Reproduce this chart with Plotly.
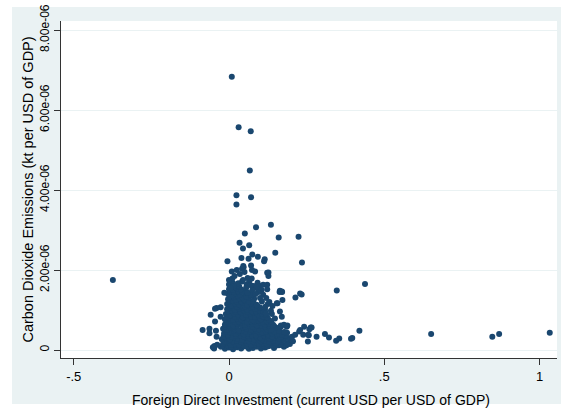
import numpy as np
import plotly.graph_objects as go

# Foreign direct investment (share of GDP) and CO2 intensity (in 1e-06 kt per USD of GDP)
fdi = [
    # lower dense band
    -0.048, -0.026, -0.013, 0.000, 0.013, 0.026, 0.039, 0.052, 0.064, 0.077, 0.090, 0.103, 0.116, 0.129, 0.145, 0.161, 0.177, 0.196,
    -0.020, -0.006, 0.007, 0.020, 0.033, 0.046, 0.059, 0.071, 0.084, 0.097, 0.110, 0.123, 0.137, 0.153, 0.169, 0.185,
    -0.019, -0.006, 0.006, 0.019, 0.032, 0.045, 0.058, 0.071, 0.084, 0.097, 0.110, 0.122, 0.135, 0.151, 0.167, 0.187, 0.206,
    -0.013, 0.000, 0.013, 0.026, 0.039, 0.052, 0.064, 0.077, 0.090, 0.103, 0.116, 0.129, 0.143, 0.159, 0.177, 0.197,
    -0.023, -0.010, 0.003, 0.016, 0.029, 0.042, 0.055, 0.068, 0.081, 0.093, 0.106, 0.119, 0.132, 0.145, 0.161, 0.174, 0.190, 0.203,
    -0.017, -0.003, 0.010, 0.023, 0.036, 0.049, 0.062, 0.075, 0.087, 0.100, 0.113, 0.126, 0.139, 0.153, 0.167, 0.182,
    -0.016, -0.003, 0.010, 0.023, 0.035, 0.048, 0.061, 0.074, 0.087, 0.100, 0.113, 0.126, 0.138, 0.155, 0.171, 0.187,
    -0.010, 0.003, 0.016, 0.029, 0.042, 0.055, 0.068, 0.080, 0.093, 0.106, 0.119, 0.132, 0.146, 0.162, 0.178,
    -0.019, -0.006, 0.006, 0.019, 0.032, 0.045, 0.058, 0.071, 0.084, 0.097, 0.110, 0.122, 0.135, 0.151, 0.167,
    -0.013, 0.000, 0.013, 0.026, 0.039, 0.052, 0.064, 0.077, 0.090, 0.103, 0.116, 0.129, 0.145,
    -0.013, 0.000, 0.013, 0.026, 0.039, 0.052, 0.064, 0.077, 0.090, 0.103, 0.116, 0.129, 0.142,
    -0.006, 0.006, 0.019, 0.032, 0.045, 0.058, 0.071, 0.084, 0.097, 0.110, 0.123, 0.136,
    -0.013, 0.000, 0.013, 0.026, 0.039, 0.052, 0.064, 0.077, 0.090, 0.103, 0.116, 0.129,
    -0.006, 0.006, 0.019, 0.032, 0.045, 0.058, 0.071, 0.084, 0.097, 0.110, 0.123,
    -0.010, 0.003, 0.016, 0.029, 0.042, 0.055, 0.068, 0.081, 0.093, 0.106, 0.119,
    -0.003, 0.010, 0.023, 0.035, 0.048, 0.061, 0.074, 0.087, 0.100, 0.112,
    -0.006, 0.006, 0.019, 0.032, 0.045, 0.058, 0.071, 0.084, 0.100, 0.116,
    0.000, 0.013, 0.026, 0.039, 0.052, 0.064, 0.077, 0.092,
    -0.006, 0.006, 0.019, 0.032, 0.045, 0.058, 0.071, 0.087,
    0.000, 0.013, 0.026, 0.039, 0.052, 0.064, 0.078,
    -0.003, 0.010, 0.023, 0.035, 0.048, 0.064, 0.081,
    0.003, 0.016, 0.029, 0.042, 0.056, 0.072,
    -0.003, 0.010, 0.023, 0.035, 0.052, 0.071,
    0.003, 0.016, 0.029, 0.043, 0.060,
    0.000, 0.013, 0.026, 0.039,
    0.006, 0.020, 0.033,
    0.000, 0.013, 0.029,
    # upper part of the cluster
    0.009, 0.011, 0.042, 0.046, 0.071, 0.074, 0.084, 0.123, 0.127, 0.030, 0.042, 0.057, 0.073, 0.092,
    0.100, 0.110, 0.123, 0.123, 0.163, 0.171, 0.172, 0.154, -0.015,
    0.025, 0.035, 0.050, 0.060, 0.018, 0.045, 0.065, 0.080, 0.088, 0.105, 0.095, 0.075, 0.110, 0.120,
    0.100, 0.130, 0.140, 0.125, 0.085, 0.070, 0.055, 0.015, 0.000, 0.005,
    # left fringe
    -0.040, -0.045, -0.027, -0.059, -0.045, -0.027, -0.085, -0.063, -0.063, -0.042, -0.040, -0.047, -0.038, -0.052,
    # right fringe
    0.089, 0.106, 0.117, 0.119, 0.138, 0.164, 0.170, 0.177, 0.186, 0.213, 0.226, 0.242, 0.239, 0.255,
    0.263, 0.254, 0.282, 0.309, 0.322, 0.345, 0.355, 0.393, 0.397, 0.420, 0.229, 0.259, 0.266, 0.257,
    0.127, 0.170, 0.164, 0.214, 0.229, 0.234, 0.135, 0.148, 0.167, 0.188, 0.156,
    # scattered high values and outliers
    0.009, 0.031, 0.070, 0.067, 0.024, 0.024, 0.071, 0.135, 0.087, 0.224, 0.160, 0.051, 0.034, 0.065,
    0.045, 0.149, 0.075, 0.235, 0.040, 0.063, 0.093, 0.115, 0.113, -0.005, 0.047,
    0.347, 0.438, -0.374, 0.651, 0.848, 0.870, 1.033,
]

co2_e6 = [
    0.04, 0.08, 0.03, 0.06, 0.02, 0.07, 0.04, 0.09, 0.03, 0.05, 0.08, 0.04, 0.06, 0.10, 0.05, 0.12, 0.08, 0.15,
    0.11, 0.12, 0.09, 0.13, 0.10, 0.12, 0.09, 0.11, 0.13, 0.10, 0.12, 0.09, 0.12, 0.11, 0.13, 0.12,
    0.15, 0.18, 0.13, 0.17, 0.14, 0.19, 0.16, 0.13, 0.18, 0.15, 0.17, 0.14, 0.19, 0.16, 0.20, 0.17, 0.22,
    0.22, 0.24, 0.21, 0.23, 0.20, 0.24, 0.22, 0.21, 0.25, 0.22, 0.23, 0.20, 0.24, 0.22, 0.25, 0.27,
    0.27, 0.30, 0.26, 0.31, 0.28, 0.25, 0.32, 0.29, 0.27, 0.30, 0.26, 0.33, 0.28, 0.31, 0.29, 0.35, 0.30, 0.33,
    0.34, 0.36, 0.33, 0.35, 0.37, 0.33, 0.35, 0.36, 0.34, 0.32, 0.36, 0.35, 0.34, 0.37, 0.33, 0.36,
    0.41, 0.38, 0.43, 0.40, 0.44, 0.39, 0.42, 0.45, 0.37, 0.41, 0.44, 0.39, 0.42, 0.40, 0.38, 0.43,
    0.47, 0.45, 0.48, 0.46, 0.49, 0.45, 0.47, 0.48, 0.46, 0.44, 0.47, 0.49, 0.46, 0.48, 0.45,
    0.53, 0.50, 0.55, 0.52, 0.49, 0.56, 0.53, 0.50, 0.54, 0.51, 0.55, 0.52, 0.50, 0.56, 0.58,
    0.59, 0.61, 0.58, 0.60, 0.62, 0.59, 0.61, 0.58, 0.60, 0.62, 0.59, 0.61, 0.60,
    0.64, 0.67, 0.62, 0.66, 0.69, 0.63, 0.67, 0.65, 0.62, 0.68, 0.64, 0.66, 0.63,
    0.71, 0.73, 0.70, 0.72, 0.74, 0.70, 0.72, 0.71, 0.73, 0.70, 0.72, 0.71,
    0.77, 0.80, 0.75, 0.79, 0.76, 0.81, 0.78, 0.74, 0.80, 0.77, 0.82, 0.75,
    0.84, 0.86, 0.83, 0.85, 0.82, 0.86, 0.84, 0.83, 0.85, 0.84, 0.82,
    0.90, 0.87, 0.92, 0.89, 0.93, 0.88, 0.91, 0.94, 0.89, 0.92, 0.88,
    0.96, 0.98, 0.95, 0.97, 0.99, 0.95, 0.97, 0.96, 0.98, 0.95,
    1.02, 1.05, 1.00, 1.04, 1.07, 1.01, 1.05, 1.03, 1.06, 1.00,
    1.09, 1.10, 1.08, 1.11, 1.09, 1.10, 1.08, 1.10,
    1.15, 1.12, 1.17, 1.14, 1.18, 1.13, 1.16, 1.12,
    1.21, 1.23, 1.20, 1.22, 1.24, 1.21, 1.22,
    1.27, 1.30, 1.25, 1.29, 1.26, 1.31, 1.28,
    1.34, 1.33, 1.35, 1.32, 1.34, 1.36,
    1.40, 1.37, 1.42, 1.39, 1.43, 1.38,
    1.46, 1.45, 1.47, 1.46, 1.44,
    1.52, 1.50, 1.54, 1.51,
    1.58, 1.57, 1.59,
    1.64, 1.67, 1.62,
    1.96, 1.79, 2.03, 2.10, 2.11, 2.00, 1.96, 1.93, 1.85, 1.67, 1.71, 1.63, 1.79, 1.68,
    1.60, 1.63, 1.63, 1.52, 1.45, 1.45, 1.25, 1.17, 1.43,
    2.00, 1.90, 1.95, 1.80, 1.85, 1.75, 1.72, 1.60, 1.55, 1.50, 1.45, 1.50, 1.38, 1.30,
    1.30, 1.20, 1.10, 1.15, 1.40, 1.62, 1.55, 1.60, 1.75, 1.55,
    1.05, 1.03, 1.07, 0.88, 0.71, 0.83, 0.50, 0.53, 0.42, 0.48, 0.33, 0.10, 0.13, 0.07,
    1.13, 1.21, 1.08, 0.92, 0.90, 0.96, 0.83, 0.63, 0.58, 0.38, 0.46, 0.58, 0.38, 0.38,
    0.56, 0.21, 0.33, 0.40, 0.31, 0.23, 0.29, 0.28, 0.30, 0.48, 0.50, 0.52, 0.56, 0.37,
    1.94, 1.46, 1.48, 1.31, 1.41, 1.39, 0.98, 0.79, 0.61, 0.61, 1.17,
    6.83, 5.57, 5.47, 4.49, 3.87, 3.64, 3.82, 3.13, 3.07, 2.83, 2.81, 2.91, 2.68, 2.62,
    2.54, 2.43, 2.39, 2.19, 2.30, 2.28, 2.33, 2.27, 2.22, 2.22, 2.07,
    1.49, 1.65, 1.75, 0.40, 0.33, 0.40, 0.43,
]

co2 = np.array(co2_e6) * 1e-6

y_ticks = [0, 2e-6, 4e-6, 6e-6, 8e-6]
y_tick_text = ["0", "2.00e-06", "4.00e-06", "6.00e-06", "8.00e-06"]
x_ticks = [-0.5, 0, 0.5, 1]
x_tick_text = ["-.5", "0", ".5", "1"]

W, H = 561, 411
L, R, T, B = 61, 4, 21, 53
pw, ph = W - L - R, H - T - B

def px_x(p):
    return (p - L) / pw

def px_y(p):
    return (H - B - p) / ph

BG = "#eaf2f3"
NAVY = "#1a476f"
AXIS = "#333333"
FONT = "Liberation Sans, Arial, sans-serif"

fig = go.Figure(
    go.Scatter(
        x=fdi, y=co2, mode="markers",
        marker=dict(color=NAVY, size=6, line=dict(width=0)),
        hoverinfo="skip",
    )
)

fig.update_layout(
    width=W, height=H,
    margin=dict(l=L, r=R, t=T, b=B),
    paper_bgcolor="white",
    plot_bgcolor="rgba(0,0,0,0)",
    showlegend=False,
    font=dict(family=FONT, color="#000000"),
    shapes=[
        dict(type="rect", xref="paper", yref="paper", layer="below",
             x0=px_x(12), x1=px_x(W + 2), y0=px_y(404), y1=px_y(7),
             fillcolor=BG, line=dict(width=0)),
        dict(type="rect", xref="paper", yref="paper", layer="below",
             x0=0, x1=1, y0=0, y1=1,
             fillcolor="white", line=dict(width=0)),
    ],
    annotations=[
        dict(text="Foreign Direct Investment (current USD per USD of GDP)",
             xref="paper", yref="paper", x=px_x(311), y=px_y(400),
             showarrow=False, xanchor="center", yanchor="middle",
             font=dict(size=14, family=FONT, color="#000000")),
    ],
)

fig.update_xaxes(
    range=[(61 - 229) / 310.5, (557 - 229) / 310.5],
    tickvals=x_ticks, ticktext=x_tick_text,
    ticks="outside", ticklen=6, tickcolor=AXIS, tickwidth=1,
    showline=True, linecolor=AXIS, linewidth=1,
    showgrid=False, zeroline=False,
    tickfont=dict(size=13, family=FONT, color="#000000"),
)

fig.update_yaxes(
    range=[-0.2e-6, 8.225e-6],
    tickvals=y_ticks, ticktext=y_tick_text, tickangle=-90,
    ticks="outside", ticklen=6, tickcolor=AXIS, tickwidth=1,
    showline=True, linecolor=AXIS, linewidth=1,
    showgrid=True, gridcolor=BG, gridwidth=1,
    zeroline=False,
    tickfont=dict(size=12, family=FONT, color="#000000"),
    title=dict(text="Carbon Dioxide Emissions (kt per USD of GDP)", standoff=1,
               font=dict(size=14.5, family=FONT, color="#000000")),
)

fig.write_html("out.html")
